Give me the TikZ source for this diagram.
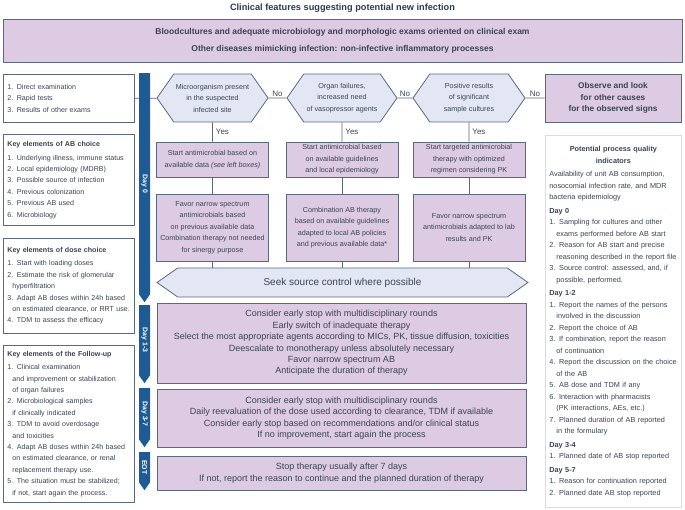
\documentclass[tikz,border=0pt]{standalone}
\usepackage{fontspec}
\setmainfont{Liberation Sans}
\usetikzlibrary{shapes.symbols}

\definecolor{ink}{HTML}{3A4454}
\definecolor{titleink}{HTML}{2A3A55}
\definecolor{edge}{HTML}{5B6880}
\definecolor{lilac}{HTML}{DCCBE2}
\definecolor{haze}{HTML}{E3E7F3}
\definecolor{dayblue}{HTML}{1D5B97}
\definecolor{rose}{HTML}{EDD3DF}

\begin{document}
\begin{tikzpicture}[
        x=1pt, y=-1pt,
        every node/.style={text=ink},
        infobox/.style={
            rectangle, draw=edge, line width=0.8pt, fill=white,
            anchor=north west, inner sep=4pt, align=left,
            font=\fontsize{7.1}{11.4}\selectfont
        },
        stepbox/.style={
            rectangle, draw=edge, line width=0.8pt, fill=lilac,
            align=center, inner sep=2pt,
            font=\fontsize{7.2}{11.5}\selectfont
        },
        decision/.style={
            signal, signal to=east and west, signal pointer angle=110,
            draw=edge, line width=0.8pt, fill=haze,
            align=center, inner sep=1pt, minimum height=48pt,
            font=\fontsize{7.2}{11.5}\selectfont
        },
        daytag/.style={
            signal, signal to=east, signal pointer angle=70,
            fill=dayblue, rotate=-90, anchor=west,
            minimum height=11pt, inner sep=0pt, text=white,
            font=\bfseries\fontsize{6.9}{7}\selectfont
        },
        link/.style={draw=edge, line width=0.8pt},
        answer/.style={font=\fontsize{8}{9}\selectfont, inner sep=1pt}
    ]
        \useasboundingbox (0,0) rectangle (685,510);

        % Title and exams
        \node[font=\bfseries\fontsize{9.2}{11}\selectfont, text=titleink] (title) at (342.5,8)
            {Clinical features suggesting potential new infection};
        \node[stepbox, minimum width=679pt, minimum height=43pt,
              font=\bfseries\fontsize{8.5}{17}\selectfont] (exams) at (342.5,40.5) {
            Bloodcultures and adequate microbiology and morphologic exams oriented on clinical exam\\
            Other diseases mimicking infection: non-infective inflammatory processes
        };

        % Left column
        \node[infobox, text width=123pt, minimum height=48pt] (results) at (3,74) {
            1. Direct examination\\
            2. Rapid tests\\
            3. Results of other exams
        };
        \node[infobox, text width=123pt, minimum height=91pt] (abchoice) at (3,134) {
            \textbf{Key elements of AB choice}\\[2.5pt]
            1. Underlying illness, immune status\\
            2. Local epidemiology (MDRB)\\
            3. Possible source of infection\\
            4. Previous colonization\\
            5. Previous AB used\\
            6. Microbiology
        };
        \node[infobox, text width=123pt, minimum height=95pt] (dosechoice) at (3,238) {
            \textbf{Key elements of dose choice}\\[2pt]
            1. Start with loading doses\\
            2. Estimate the risk of glomerular\\
            \hspace*{5pt}hyperfiltration\\
            3. Adapt AB doses within 24h based\\
            \hspace*{5pt}on estimated clearance, or RRT use.\\
            4. TDM to assess the efficacy
        };
        \node[infobox, text width=123pt, minimum height=157pt] (followup) at (3,345) {
            \textbf{Key elements of the Follow-up}\\[2pt]
            1. Clinical examination\\
            \hspace*{5pt}and improvement or stabilization\\
            \hspace*{5pt}of organ failures\\
            2. Microbiological samples\\
            \hspace*{5pt}if clinically indicated\\
            3. TDM to avoid overdosage\\
            \hspace*{5pt}and toxicities\\
            4. Adapt AB doses within 24h based\\
            \hspace*{5pt}on estimated clearance, or renal\\
            \hspace*{5pt}replacement therapy use.\\
            5. The situation must be stabilized;\\
            \hspace*{5pt}if not, start again the process.
        };

        % Decisions
        \node[decision, minimum width=111pt] (organism) at (212.5,98)
            {Microorganism present\\in the suspected\\infected site};
        \node[decision, minimum width=110pt] (organs) at (342,98)
            {Organ failures,\\increased need\\of vasopressor agents};
        \node[decision, minimum width=112pt] (cultures) at (469,98)
            {Positive results\\of significant\\sample cultures};
        \node[stepbox, minimum width=136pt, minimum height=48pt,
              font=\bfseries\fontsize{8.3}{11.5}\selectfont] (observe) at (613,98)
            {Observe and look\\for other causes\\for the observed signs};

        % Start of therapy
        \node[stepbox, minimum width=112pt, minimum height=35pt] (startemp) at (212.5,159.5)
            {Start antimicrobial based on\\available data \textit{(see left boxes)}};
        \node[stepbox, minimum width=112pt, minimum height=35pt] (startguide) at (342,159.5)
            {Start antimicrobial based\\on available guidelines\\and local epidemiology};
        \node[stepbox, minimum width=112pt, minimum height=35pt] (starttarget) at (469,159.5)
            {Start targeted antimicrobial\\therapy with optimized\\regimen considering PK};

        \node[stepbox, minimum width=112pt, minimum height=67pt] (narrowprev) at (212.5,227.5)
            {Favor narrow spectrum\\antimicrobials based\\on previous available data\\Combination therapy not needed\\for sinergy purpose};
        \node[stepbox, minimum width=112pt, minimum height=67pt] (combo) at (342,227.5)
            {Combination AB therapy\\based on available guidelines\\adapted to local AB policies\\and previous available data*};
        \node[stepbox, minimum width=112pt, minimum height=67pt] (narrowlab) at (469,227.5)
            {Favor narrow spectrum\\antimicrobials adapted to lab\\results and PK};

        \node[decision, minimum width=371pt, minimum height=29pt, signal pointer angle=70,
              font=\fontsize{10}{12}\selectfont] (seek) at (342.5,282.5)
            {Seek source control where possible};

        % Follow-up boxes
        \node[stepbox, minimum width=369pt, minimum height=80pt,
              font=\fontsize{9}{11.4}\selectfont] (earlyrounds) at (341.5,343) {
            Consider early stop with multidisciplinary rounds\\
            Early switch of inadequate therapy\\
            Select the most appropriate agents according to MICs, PK, tissue diffusion, toxicities\\
            Deescalate to monotherapy unless absolutely necessary\\
            Favor narrow spectrum AB\\
            Anticipate the duration of therapy
        };
        \node[stepbox, minimum width=369pt, minimum height=58pt,
              font=\fontsize{9}{11.4}\selectfont] (laterounds) at (341.5,418) {
            Consider early stop with multidisciplinary rounds\\
            Daily reevaluation of the dose used according to clearance, TDM if available\\
            Consider early stop based on recommendations and/or clinical status\\
            If no improvement, start again the process
        };
        \node[stepbox, minimum width=369pt, minimum height=34pt,
              font=\fontsize{9}{11.4}\selectfont] (stoptherapy) at (341.5,473) {
            Stop therapy usually after 7 days\\
            If not, report the reason to continue and the planned duration of therapy
        };

        % Quality indicators
        \node[infobox, draw=rose, text width=128pt, minimum height=372pt,
              font=\fontsize{7.3}{11.5}\selectfont] (quality) at (545,135) {
            \makebox[128pt]{\bfseries Potential process quality}\\
            \makebox[128pt]{\bfseries indicators}\\[2pt]
            Availability of unit AB consumption,\\
            nosocomial infection rate, and MDR\\
            bacteria epidemiology\\[2pt]
            \textbf{Day 0}\\
            1. Sampling for cultures and other\\
            \hspace*{7pt}exams performed before AB start\\
            2. Reason for AB start and precise\\
            \hspace*{7pt}reasoning described in the report file\\
            3. Source control: assessed, and, if\\
            \hspace*{7pt}possible, performed.\\[2pt]
            \textbf{Day 1-2}\\
            1. Report the names of the persons\\
            \hspace*{7pt}involved in the discussion\\
            2. Report the choice of AB\\
            3. If combination, report the reason\\
            \hspace*{7pt}of continuation\\
            4. Report the discussion on the choice\\
            \hspace*{7pt}of the AB\\
            5. AB dose and TDM if any\\
            6. Interaction with pharmacists\\
            \hspace*{7pt}(PK interactions, AEs, etc.)\\
            7. Planned duration of AB reported\\
            \hspace*{7pt}in the formulary\\[2pt]
            \textbf{Day 3-4}\\
            1. Planned date of AB stop reported\\[2pt]
            \textbf{Day 5-7}\\
            1. Reason for continuation reported\\
            2. Planned date AB stop reported
        };

        % Relations
        \draw[link] (results) -- (organism);
        \draw[link] (organism) -- (organs) node[answer, midway, above] {No};
        \draw[link] (organs) -- (cultures) node[answer, midway, above] {No};
        \draw[link] (cultures) -- (observe) node[answer, midway, above] {No};
        \draw[link] (organism) -- (startemp) node[answer, midway, right=2pt] {Yes};
        \draw[link] (organs) -- (startguide) node[answer, midway, right=2pt] {Yes};
        \draw[link] (cultures) -- (starttarget) node[answer, midway, right=2pt] {Yes};
        \draw[link] (startemp) -- (narrowprev);
        \draw[link] (startguide) -- (combo);
        \draw[link] (starttarget) -- (narrowlab);
        \draw[link] (narrowprev.south) -- (narrowprev.south |- seek.north);
        \draw[link] (combo.south) -- (combo.south |- seek.north);
        \draw[link] (narrowlab.south) -- (narrowlab.south |- seek.north);

        % Day band
        \node[daytag, minimum width=229pt] (day0) at (144.5,73) {Day 0};
        \node[daytag, minimum width=78pt] (day13) at (144.5,305) {Day 1-3};
        \node[daytag, minimum width=59pt] (day37) at (144.5,388) {Day 3-7};
        \node[daytag, minimum width=38pt] (dayeot) at (144.5,452) {EOT};

    \end{tikzpicture}
\end{document}
